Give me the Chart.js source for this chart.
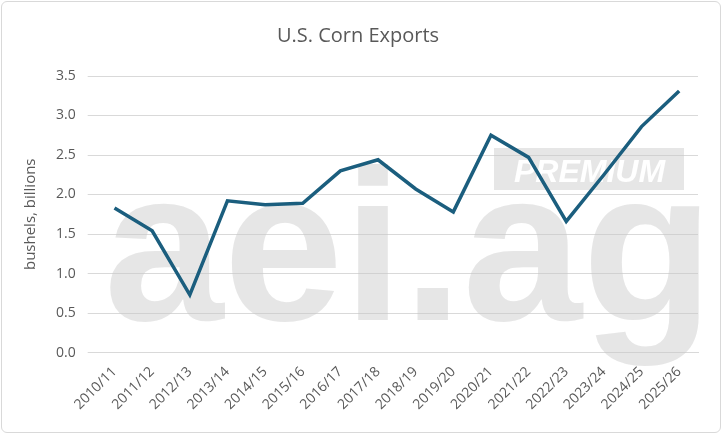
<!DOCTYPE html>
<html><head><meta charset="utf-8">
<script src="https://cdn.jsdelivr.net/npm/chart.js@4"></script>
<style>html,body{margin:0;padding:0;background:#fff}
#w{position:absolute;left:1px;top:1px;width:720px;height:432px;border:1px solid #d9d9d9;border-radius:6px;box-sizing:border-box}
</style></head><body>
<div id="w"><canvas id="c"></canvas></div>
<script>
const categories=["2010/11","2011/12","2012/13","2013/14","2014/15","2015/16","2016/17","2017/18","2018/19","2019/20","2020/21","2021/22","2022/23","2023/24","2024/25","2025/26"];
const exportsBil=[1.83,1.54,0.73,1.92,1.87,1.89,2.30,2.44,2.07,1.78,2.75,2.47,1.66,2.25,2.86,3.31];
const watermark={id:'wm',beforeDatasetsDraw(ch){const c=ch.ctx;c.save();c.fillStyle='rgba(200,200,200,0.45)';
c.font='bold 215px "Liberation Sans", Arial';c.textBaseline='alphabetic';c.fillText('aei.ag',102,318);
c.fillRect(492,146,190,42);
c.fillStyle='#fff';c.font='italic bold 32px "Liberation Sans", Arial';c.fillText('PREMIUM',512,180);c.restore();}};
new Chart(document.getElementById('c'),{type:'line',
data:{labels:categories,datasets:[{data:exportsBil,borderColor:'#1b5e7e',borderWidth:3.5,pointRadius:0,tension:0}]},
options:{responsive:true,maintainAspectRatio:false,animation:false,
layout:{padding:{left:16,right:22,top:6,bottom:16}},
plugins:{legend:{display:false},tooltip:{enabled:false},
title:{display:true,text:'U.S. Corn Exports',color:'#595959',font:{family:'"Open Sans", Arial',size:20,weight:'normal'},padding:{top:16,bottom:28}}},
scales:{x:{offset:true,grid:{display:false},border:{color:'#d9d9d9'},ticks:{color:'#595959',font:{family:'"Open Sans", Arial',size:14},maxRotation:45,minRotation:45}},
y:{min:0,max:3.5,ticks:{stepSize:0.5,color:'#595959',font:{family:'"Open Sans", Arial',size:14},callback:v=>v.toFixed(1),padding:12},
grid:{color:'#d9d9d9'},border:{display:false},
title:{display:true,text:'bushels, billions',color:'#595959',font:{family:'"Open Sans", Arial',size:15}}}}},
plugins:[watermark]});
</script></body></html>
